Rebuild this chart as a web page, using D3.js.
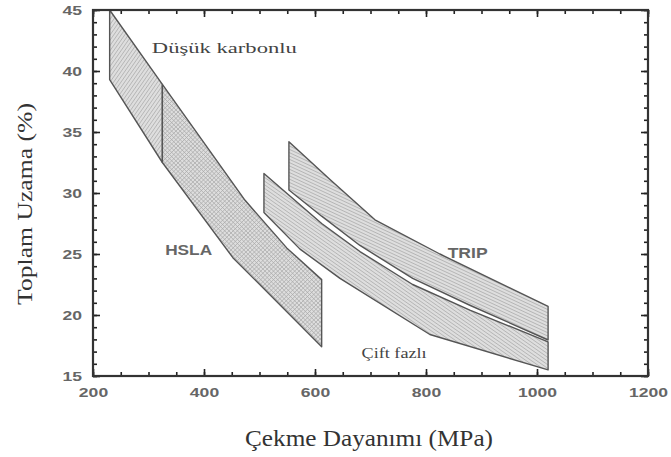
<!DOCTYPE html>
<html>
<head>
<meta charset="utf-8">
<script src="https://cdn.jsdelivr.net/npm/d3@7"></script>
</head>
<body style="margin:0">
<svg id="chart" width="671" height="457"></svg>
<script>
// axis ticks
const xTicks = [200, 400, 600, 800, 1000, 1200];
const yTicks = [15, 20, 25, 30, 35, 40, 45];

// steel regions, [tensile strength MPa, total elongation %]
const lowCarbon = [[230, 45], [325, 38.9], [325, 32.5], [230, 39.3]];
const hsla = [[325, 38.9], [474, 29.4], [549, 25.5], [612, 22.9],
              [612, 17.4], [452, 24.7], [325, 32.5]];
const dualPhase = [[508, 31.6], [612, 27.5], [681, 25.2], [776, 22.5], [879, 20.4], [1020, 17.8],
                   [1020, 15.5], [807, 18.4], [645, 23.0], [573, 25.4], [508, 28.4]];
const trip = [[553, 34.2], [627, 31.1], [708, 27.8], [825, 25.0], [1020, 20.7],
              [1020, 17.95], [879, 20.8], [776, 23.0], [681, 25.7], [612, 28.1], [553, 30.25]];

const regionNames = ['Düşük karbonlu', 'HSLA', 'Çift fazlı', 'TRIP'];
const regionLabelAt = [[306, 41.5], [330, 24.9], [684, 16.5], [839, 24.7]];

const svg = d3.select('#chart');
const plotLeft = 93, plotRight = 648, plotTop = 10, plotBottom = 376;

const x = d3.scaleLinear().domain([200, 1200]).range([plotLeft, plotRight]);
const y = d3.scaleLinear().domain([15, 45]).range([plotBottom, plotTop]);

const outline = d3.line().x((d) => x(d[0])).y((d) => y(d[1]));

// hatching: parallel lines clipped to each region
const hatchPath = (angle, spacing) => {
  const a = angle * Math.PI / 180;
  const dx = Math.cos(a), dy = Math.sin(a);
  const D = 700;
  let p = '';
  for (let t = -D; t <= D; t += spacing) {
    const px = 335 - dy * t, py = 228 + dx * t;
    p += `M${px - dx * D},${py - dy * D}L${px + dx * D},${py + dy * D}`;
  }
  return p;
};

const regions = [
  { id: 'lc', pts: lowCarbon, angles: [-55] },
  { id: 'hsla', pts: hsla, angles: [45, -45] },
  { id: 'dp', pts: dualPhase, angles: [35] },
  { id: 'trip', pts: trip, angles: [25] }
];

const defs = svg.append('defs');
regions.forEach((r) => {
  defs.append('clipPath').attr('id', `clip-${r.id}`)
      .append('path').attr('d', outline(r.pts) + 'Z');
});

const regionG = svg.append('g').selectAll('g')
    .data(regions)
    .enter()
    .append('g');

regionG.append('g')
    .attr('clip-path', (d) => `url(#clip-${d.id})`)
    .each(function(d) {
      const g = d3.select(this);
      g.append('path').attr('d', outline(d.pts) + 'Z').attr('fill', '#dedede');
      d.angles.forEach((a) => {
        g.append('path')
            .attr('d', hatchPath(a, 3))
            .attr('fill', 'none')
            .attr('stroke', '#ababab')
            .attr('stroke-width', 0.8);
      });
    });

regionG.append('path')
    .attr('d', (d) => outline(d.pts) + 'Z')
    .attr('fill', 'none')
    .attr('stroke', '#555')
    .attr('stroke-width', 1.4)
    .attr('stroke-linejoin', 'round');

// axes: minor and major inward ticks on all four sides
const stretch = (sel, k) => {
  sel.each(function() {
    const w = this.getComputedTextLength();
    d3.select(this).attr('textLength', w * k).attr('lengthAdjust', 'spacingAndGlyphs');
  });
};

const xMinor = d3.range(200, 1201, 50);
const yMinor = d3.range(15, 46, 1);
const noLabel = () => '';

const axisStyle = (g) => {
  g.select('.domain').remove();
  g.selectAll('.tick line').attr('stroke', '#222').attr('stroke-width', 1.6);
  g.selectAll('text')
      .style('font-family', 'Liberation Sans, Arial, sans-serif')
      .style('font-size', '13px')
      .style('font-weight', 'bold')
      .attr('fill', '#666');
};

svg.append('g').attr('transform', `translate(0,${plotBottom})`)
    .call(d3.axisBottom(x).tickValues(xMinor).tickSize(-4).tickFormat(noLabel))
    .call(axisStyle);
svg.append('g').attr('transform', `translate(0,${plotTop})`)
    .call(d3.axisTop(x).tickValues(xMinor).tickSize(-4).tickFormat(noLabel))
    .call(axisStyle);
svg.append('g').attr('transform', `translate(${plotLeft},0)`)
    .call(d3.axisLeft(y).tickValues(yMinor).tickSize(-4).tickFormat(noLabel))
    .call(axisStyle);
svg.append('g').attr('transform', `translate(${plotRight},0)`)
    .call(d3.axisRight(y).tickValues(yMinor).tickSize(-4).tickFormat(noLabel))
    .call(axisStyle);

const xAxis = svg.append('g').attr('transform', `translate(0,${plotBottom})`)
    .call(d3.axisBottom(x).tickValues(xTicks).tickSize(-7).tickPadding(12).tickFormat(d3.format('d')))
    .call(axisStyle);
svg.append('g').attr('transform', `translate(0,${plotTop})`)
    .call(d3.axisTop(x).tickValues(xTicks).tickSize(-7).tickFormat(noLabel))
    .call(axisStyle);
const yAxis = svg.append('g').attr('transform', `translate(${plotLeft},0)`)
    .call(d3.axisLeft(y).tickValues(yTicks).tickSize(-7).tickPadding(11).tickFormat(d3.format('d')))
    .call(axisStyle);
svg.append('g').attr('transform', `translate(${plotRight},0)`)
    .call(d3.axisRight(y).tickValues(yTicks).tickSize(-7).tickFormat(noLabel))
    .call(axisStyle);

stretch(xAxis.selectAll('text'), 1.35);
stretch(yAxis.selectAll('text'), 1.35);

// region labels
const labelStyle = [
  { font: 'Liberation Serif, Times New Roman, serif', size: 15, weight: 'normal', color: '#444', len: 145 },
  { font: 'Liberation Sans, Arial, sans-serif', size: 14, weight: 'bold', color: '#666', len: 47 },
  { font: 'Liberation Serif, Times New Roman, serif', size: 15, weight: 'normal', color: '#444', len: 65 },
  { font: 'Liberation Sans, Arial, sans-serif', size: 15, weight: 'bold', color: '#666', len: 40 }
];

svg.append('g').selectAll('text')
    .data(regionNames)
    .enter()
    .append('text')
    .text((d) => d)
    .attr('x', (d, i) => x(regionLabelAt[i][0]))
    .attr('y', (d, i) => y(regionLabelAt[i][1]))
    .style('font-family', (d, i) => labelStyle[i].font)
    .style('font-size', (d, i) => labelStyle[i].size + 'px')
    .style('font-weight', (d, i) => labelStyle[i].weight)
    .attr('fill', (d, i) => labelStyle[i].color)
    .attr('textLength', (d, i) => labelStyle[i].len)
    .attr('lengthAdjust', 'spacingAndGlyphs');

// axis titles
svg.append('text')
    .text('Çekme Dayanımı (MPa)')
    .attr('x', 369)
    .attr('y', 446)
    .attr('text-anchor', 'middle')
    .style('font-family', 'Liberation Serif, Times New Roman, serif')
    .style('font-size', '24px')
    .attr('fill', '#333')
    .attr('textLength', 248)
    .attr('lengthAdjust', 'spacingAndGlyphs');

svg.append('text')
    .text('Toplam Uzama (%)')
    .attr('transform', 'translate(32,204) rotate(-90)')
    .attr('text-anchor', 'middle')
    .style('font-family', 'Liberation Serif, Times New Roman, serif')
    .style('font-size', '21px')
    .attr('fill', '#333')
    .attr('textLength', 202)
    .attr('lengthAdjust', 'spacingAndGlyphs');

// plot frame, drawn last so nothing sits over it
svg.append('rect')
    .attr('x', x(200)).attr('y', y(45))
    .attr('width', x(1200) - x(200)).attr('height', y(15) - y(45))
    .attr('fill', 'none')
    .attr('stroke', '#333')
    .attr('stroke-width', 2.2);
</script>
</body>
</html>
